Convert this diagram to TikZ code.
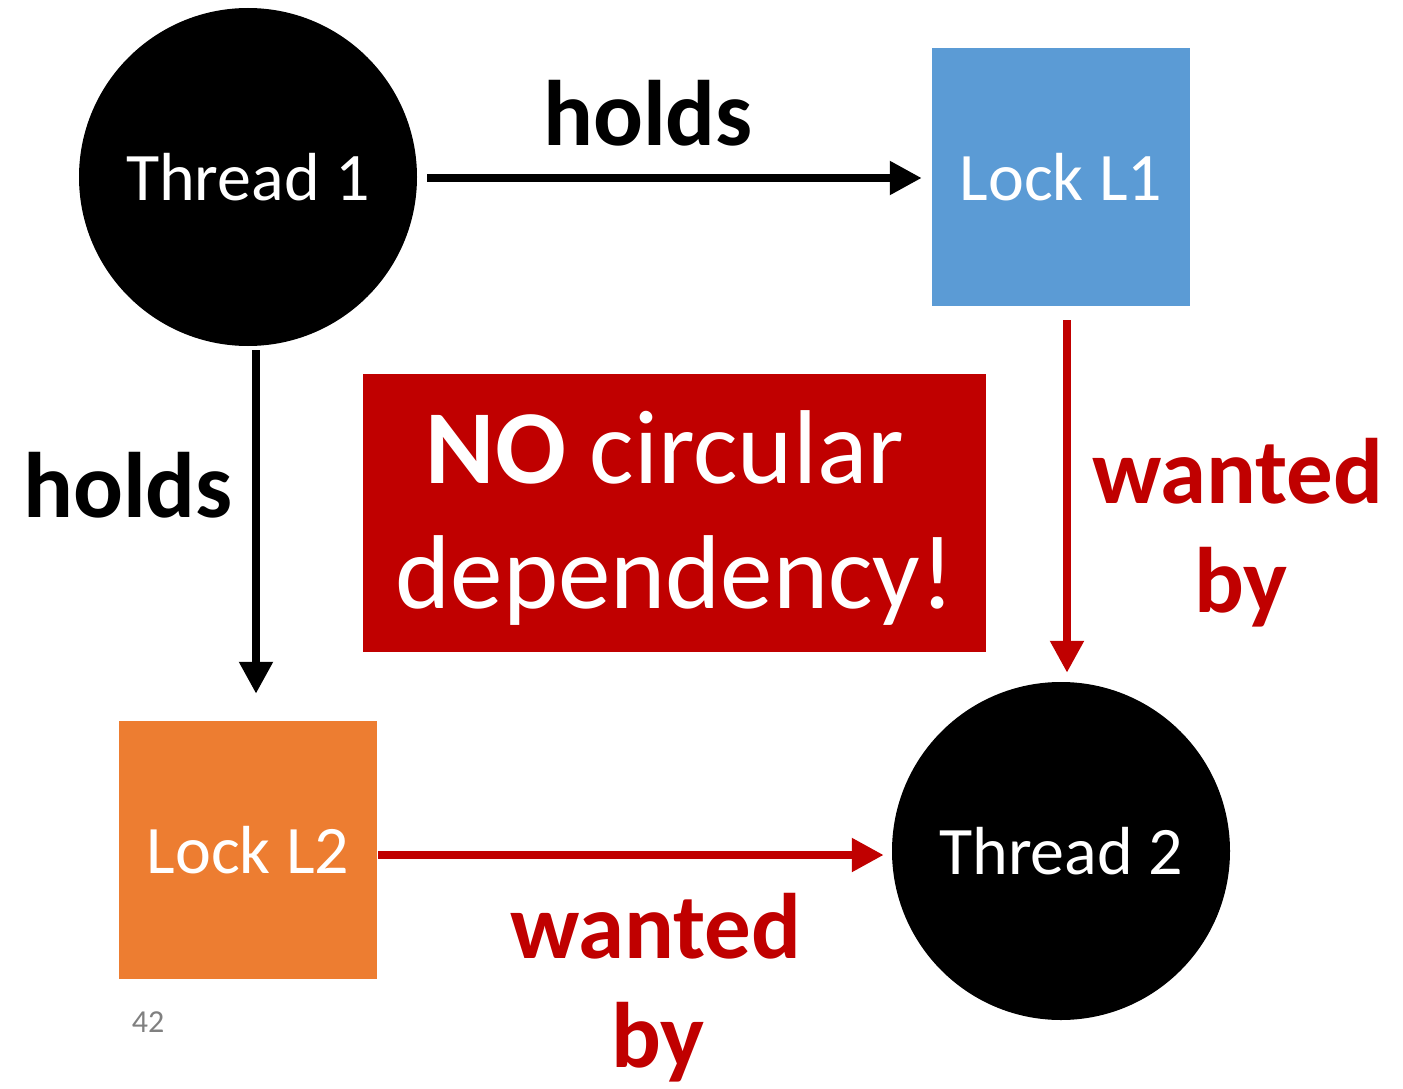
\documentclass[tikz,border=0pt]{standalone}
\usepackage{fontspec}
\setmainfont{Carlito}
\usetikzlibrary{shapes, arrows.meta, positioning, calc}
\definecolor{lockblue}{RGB}{91, 155, 213}
\definecolor{lockorange}{RGB}{237, 125, 49}
\definecolor{deadred}{RGB}{192, 0, 0}
\definecolor{pagegray}{RGB}{128, 128, 128}

\begin{document}
\begin{tikzpicture}[
  x=1pt, y=-1pt,
  thread/.style={circle, fill=black, minimum size=338pt, inner sep=0pt,
                 text=white, font=\fontsize{68}{80}\selectfont},
  lock/.style={rectangle, minimum size=258pt, inner sep=0pt,
               text=white, font=\fontsize{68}{80}\selectfont},
  rel/.style={font=\fontsize{93}{110}\selectfont\bfseries, anchor=base},
  arr/.style={-{Triangle[length=32pt, width=32pt]}, line width=8.5pt},
  warr/.style={arr, deadred}
]
  \useasboundingbox (0,0) rectangle (1403,1089);

  \node[thread] (t1) at (248,177) {Thread 1};
  \node[lock, fill=lockblue] (l1) at (1061,177) {Lock L1};
  \node[lock, fill=lockorange] (l2) at (248,850) {Lock L2};
  \node[thread] (t2) at (1061,851) {Thread 2};

  % message box in the middle
  \node[rectangle, fill=deadred, minimum width=623pt, minimum height=278pt,
        inner sep=0pt] (msg) at (674.5,513) {};
  \node[text=white, anchor=base, font=\fontsize{105}{120}\selectfont]
    (msg1) at (665,483) {\textbf{NO} circular};
  \node[text=white, anchor=base, font=\fontsize{105}{120}\selectfont]
    (msg2) at (675,608) {dependency!};

  % holds edges
  \draw[arr, shorten <=10pt, shorten >=10pt] ([yshift=-1pt]t1.east) -- ([yshift=-1pt]l1.west);
  \draw[arr, shorten <=4pt, shorten >=27pt] ([xshift=8pt]t1.south) -- ([xshift=8pt]l2.north);
  \node[rel] (h1) at (648,146) {holds};
  \node[rel] (h2) at (128,517) {holds};

  % wanted-by edges
  \draw[warr, shorten <=14pt, shorten >=9pt] ([xshift=6pt]l1.south) -- ([xshift=6pt]t2.north);
  \draw[warr, shorten <=1pt, shorten >=8pt] ([yshift=-5pt]l2.east) -- ([yshift=-4pt]t2.west);
  \node[rel, text=deadred] (w1) at (1238,503) {wanted};
  \node[rel, text=deadred] (b1) at (1241,612) {by};
  \node[rel, text=deadred] (w2) at (656,958) {wanted};
  \node[rel, text=deadred] (b2) at (658,1067) {by};

  \node[text=pagegray, anchor=base, font=\fontsize{32}{38}\selectfont] (pg) at (148,1032) {42};
\end{tikzpicture}
\end{document}
